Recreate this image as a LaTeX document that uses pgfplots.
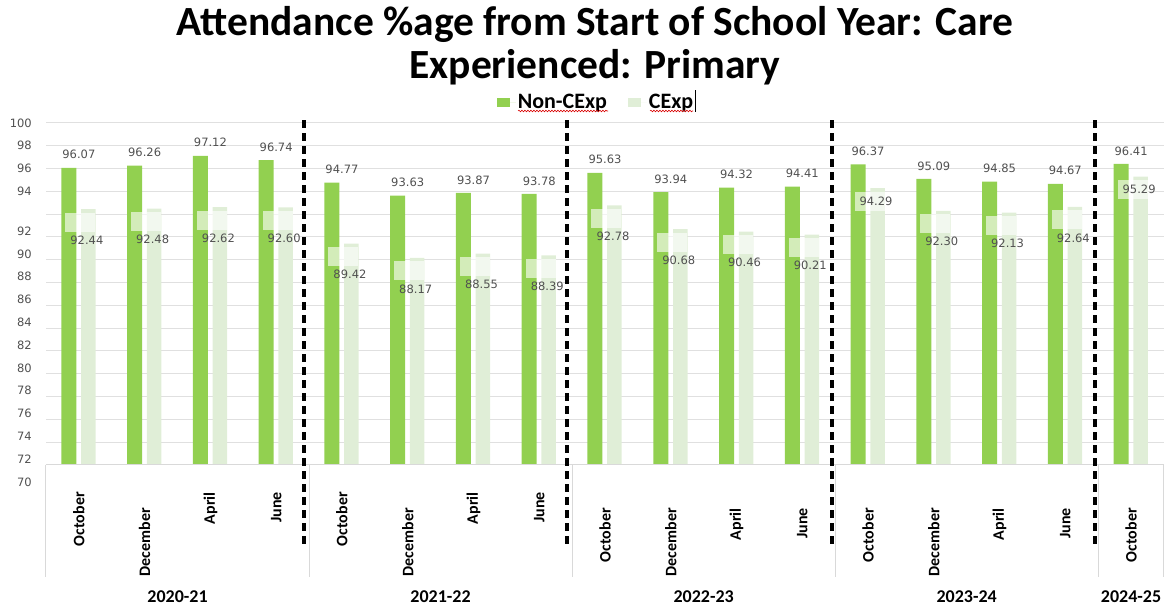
\documentclass[border=0pt]{standalone}
\usepackage{fontspec}
\setmainfont{Carlito}
\newfontfamily\dejavu{DejaVu Sans}
\usepackage{pgfplots}
\pgfplotsset{compat=1.18}
\usepackage{pgfplotstable}
\usetikzlibrary{decorations.pathmorphing}
\definecolor{cgreen}{RGB}{146,208,80}
\definecolor{cpale}{RGB}{224,238,215}
\definecolor{lblgray}{RGB}{80,80,80}
\definecolor{gridgray}{RGB}{224,224,224}
\definecolor{sepgray}{RGB}{217,217,217}

\pgfplotstableread{
idx non cexp ly by
0 96.07 92.44 89.72 91.30
1 96.26 92.48 89.76 91.34
2 97.12 92.62 89.90 91.48
3 96.74 92.60 89.88 91.46
4 94.77 89.42 86.70 88.28
5 93.63 88.17 85.45 87.03
6 93.87 88.55 85.83 87.41
7 93.78 88.39 85.67 87.25
8 95.63 92.78 90.06 91.64
9 93.94 90.68 87.96 89.54
10 94.32 90.46 87.74 89.32
11 94.41 90.21 87.49 89.07
12 96.37 94.29 93.15 93.15
13 95.09 92.30 89.58 91.16
14 94.85 92.13 89.41 90.99
15 94.67 92.64 89.92 91.50
16 96.41 95.29 94.15 94.15
}\data

\begin{document}
\begin{tikzpicture}
\path[use as bounding box] (0pt,0pt) rectangle (1171pt,612pt);
\node[font=\bfseries\fontsize{41.5}{41.5}\selectfont, anchor=base] at (595pt,576pt) {Attendance \%age from Start of School Year: Care};
\node[font=\bfseries\fontsize{41.5}{41.5}\selectfont, anchor=base] at (595pt,533pt) {Experienced: Primary};
\begin{axis}[
  at={(46pt,147pt)}, anchor=south west,
  width=1118pt, height=342pt, scale only axis,
  xmin=-0.5, xmax=16.5, ymin=70, ymax=100,
  clip mode=individual,
  axis line style={draw=none},
  major tick length=0pt,
  /pgf/number format/assume math mode=true,
  ytick={94,96,98,100},
  extra y ticks={70,72,74,76,78,80,82,84,86,88,90,92},
  extra y tick style={grid=major, yticklabel style={yshift=-17pt}},
  ymajorgrids,
  grid style={draw=gridgray, line width=1pt},
  yticklabel style={font=\dejavu\fontsize{11.5}{11.5}\selectfont, text=lblgray, inner sep=0pt, anchor=east},
  yticklabel shift=14pt,
  xtick={0,...,16},
  xticklabels={October\hspace*{27pt}, December\hspace*{43pt}, April\hspace*{27pt}, June\hspace*{27pt},
               October\hspace*{27pt}, December\hspace*{43pt}, April\hspace*{27pt}, June\hspace*{27pt},
               October\hspace*{43pt}, December\hspace*{43pt}, April\hspace*{43pt}, June\hspace*{43pt},
               October\hspace*{43pt}, December\hspace*{43pt}, April\hspace*{43pt}, June\hspace*{43pt},
               October\hspace*{43pt}},
  xticklabel style={rotate=90, anchor=east, inner sep=0pt, font=\bfseries\fontsize{16}{16}\selectfont, text=black},
  legend style={at={(0.492,1.061)}, anchor=center, draw=none, fill=none, legend columns=2,
    font=\bfseries\fontsize{22}{22}\selectfont, inner sep=0pt,
    /tikz/every even column/.append style={column sep=19pt}},
  legend image code/.code={\fill[#1] (0pt,-4.5pt) rectangle (13pt,4.5pt); \path (0pt,0pt) -- (19pt,0pt);},
]
\addplot[ybar, bar width=15pt, bar shift=-10pt, fill=cgreen, draw=none,
  nodes near coords={\pgfmathprintnumber[fixed,fixed zerofill,precision=2]{\pgfplotspointmeta}},
  every node near coord/.append style={anchor=south, inner sep=0pt, yshift=8.5pt, font=\dejavu\fontsize{11.5}{11.5}\selectfont, text=lblgray}]
  table[x=idx, y=non] {\data};
\addlegendentry{Non-CExp}
\addplot[ybar, bar width=14.5pt, bar shift=9.5pt, fill=cpale, draw=none]
  table[x=idx, y=cexp] {\data};
\addlegendentry{CExp}
% translucent label backgrounds
\addplot[draw=none, mark=none, forget plot,
  nodes near coords={},
  every node near coord/.append style={anchor=center, inner sep=0pt, xshift=1.5pt, fill=white, fill opacity=0.6, draw=none,
    minimum width=30pt, minimum height=19pt}]
  table[x=idx, y=by] {\data};
\addplot[draw=none, mark=none, forget plot, point meta=explicit,
  nodes near coords={\pgfmathprintnumber[fixed,fixed zerofill,precision=2]{\pgfplotspointmeta}},
  every node near coord/.append style={anchor=center, inner sep=0pt, xshift=8pt, font=\dejavu\fontsize{11.5}{11.5}\selectfont, text=lblgray}]
  table[x=idx, y=ly, meta=cexp] {\data};
% axis base line and category separators
\draw[sepgray, line width=1pt] (axis cs:-0.5,70) -- (axis cs:16.5,70);
\pgfplotsinvokeforeach{-0.5,3.5,7.5,11.5,15.5,16.5}{
  \draw[sepgray, line width=1pt] (axis cs:#1,70) -- ++(0pt,-112pt);
}
% dashed year dividers
\pgfplotsinvokeforeach{3.42,7.42,11.45,15.45}{
  \draw[black, line width=4pt, dash pattern=on 8pt off 5pt] (axis cs:#1,100.25) -- (axis cs:#1,63);
}
% year group labels
\node[anchor=base, font=\bfseries\fontsize{18}{18}\selectfont] at ([yshift=-138pt]axis cs:1.5,70) {2020-21};
\node[anchor=base, font=\bfseries\fontsize{18}{18}\selectfont] at ([yshift=-138pt]axis cs:5.5,70) {2021-22};
\node[anchor=base, font=\bfseries\fontsize{18}{18}\selectfont] at ([yshift=-138pt]axis cs:9.5,70) {2022-23};
\node[anchor=base, font=\bfseries\fontsize{18}{18}\selectfont] at ([yshift=-138pt]axis cs:13.5,70) {2023-24};
\node[anchor=base, font=\bfseries\fontsize{18}{18}\selectfont] at ([yshift=-138pt]axis cs:16,70) {2024-25};
\end{axis}
% spell-check underlines and text cursor in the legend
\draw[red!85!black, line width=0.6pt, decorate, decoration={snake, amplitude=0.8pt, segment length=3pt}] (518pt,501pt) -- (608pt,501pt);
\draw[red!85!black, line width=0.6pt, decorate, decoration={snake, amplitude=0.8pt, segment length=3pt}] (650pt,501pt) -- (693pt,501pt);
\draw[black, line width=0.8pt] (695pt,500pt) -- (695pt,522pt);
\end{tikzpicture}
\end{document}
